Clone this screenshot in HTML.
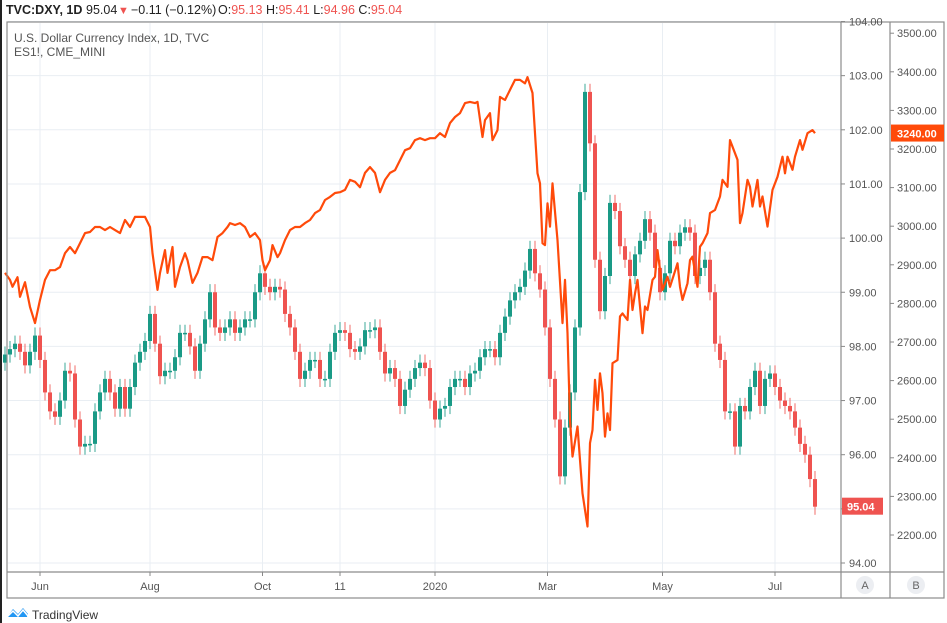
<!DOCTYPE html>
<html><head><meta charset="utf-8">
<style>
html,body{margin:0;padding:0;background:#fff;width:947px;height:623px;overflow:hidden;font-family:"Liberation Sans",sans-serif;}
svg text{font-family:"Liberation Sans",sans-serif;}
</style></head>
<body>
<svg id="chart" width="947" height="623" viewBox="0 0 947 623" xmlns="http://www.w3.org/2000/svg">
  <rect x="0" y="0" width="2" height="623" fill="#222"/>
  <g id="header">
    <text x="6" y="14" font-size="12.5" fill="#222" font-weight="bold">TVC:DXY, 1D</text>
    <text x="86" y="14" font-size="12.5" fill="#222">95.04</text>
    <text x="118" y="14" font-size="11" fill="#ef5350">▼</text>
    <text x="131" y="14" font-size="12.5" fill="#222">−0.11 (−0.12%)</text>
    <text x="218" y="14" font-size="12.5" fill="#222">O:<tspan fill="#ef5350">95.13</tspan> H:<tspan fill="#ef5350">95.41</tspan> L:<tspan fill="#ef5350">94.96</tspan> C:<tspan fill="#ef5350">95.04</tspan></text>
  </g>
  <g id="grid"></g>
  <g id="candles"></g>
  <path id="esline" fill="none" stroke="#ff4a0a" stroke-width="2.2" stroke-linejoin="round"/>
  <rect x="7" y="22" width="937" height="576" fill="none" stroke="#8c8c8c" stroke-width="1.2"/>
  <line x1="841" y1="22" x2="841" y2="598" stroke="#8c8c8c" stroke-width="1.2"/>
  <line x1="890" y1="22" x2="890" y2="598" stroke="#8c8c8c" stroke-width="1.2"/>
  <line x1="7" y1="572" x2="944" y2="572" stroke="#8c8c8c" stroke-width="1.2"/>
  <text x="14" y="42" font-size="12" fill="#555">U.S. Dollar Currency Index, 1D, TVC</text>
  <text x="14" y="56" font-size="12" fill="#555">ES1!, CME_MINI</text>
  <g id="dxyaxis"></g>
  <g id="esaxis"></g>
  <g id="timeaxis"></g>
  <g><circle cx="865" cy="585" r="9" fill="#eceef2"/><text x="865" y="589" font-size="11" fill="#666" text-anchor="middle">A</text></g>
  <g><circle cx="916" cy="585" r="9" fill="#eceef2"/><text x="916" y="589" font-size="11" fill="#666" text-anchor="middle">B</text></g>
  <g>
    <path d="M7 617 L13 609 L18 614 L23 608 L28 614 L27 617 Z" fill="#2196f3"/>
    <path d="M7 617 L13 611 L18 616 L23 610 L28 616" fill="none" stroke="#fff" stroke-width="1.5"/>
    <text x="32" y="619" font-size="12" fill="#333">TradingView</text>
  </g>
</svg>
<script>
const dxyCloses = [97.85,97.95,98.05,97.9,97.65,97.9,98.2,97.75,97.15,96.8,96.7,97.0,97.55,97.5,96.65,96.15,96.2,96.2,96.8,97.15,97.4,97.15,96.85,97.25,96.85,97.25,97.7,97.9,98.1,98.6,98.05,97.45,97.55,97.55,97.8,98.25,98.25,98.0,97.55,98.05,98.5,99.0,98.35,98.25,98.35,98.5,98.25,98.35,98.5,98.5,99.0,99.35,99.1,99.0,99.1,99.05,98.6,98.35,97.9,97.4,97.55,97.75,97.75,97.4,97.4,97.9,98.25,98.3,98.25,97.95,97.9,98.0,98.3,98.3,98.35,97.9,97.5,97.6,97.4,96.9,97.2,97.4,97.6,97.7,97.6,97.0,96.65,96.85,96.9,97.25,97.4,97.4,97.25,97.5,97.55,97.8,97.95,97.95,97.8,98.25,98.55,98.85,99.0,99.1,99.4,99.8,99.35,99.05,98.35,97.4,96.65,95.6,96.5,97.15,98.35,100.85,102.7,101.75,99.6,98.65,99.3,100.65,100.5,99.85,99.6,99.3,99.7,99.95,100.35,100.1,99.45,99.0,99.35,99.95,99.85,100.1,100.2,100.1,99.3,99.45,99.6,99.0,98.05,97.75,96.8,96.8,96.15,96.9,96.8,97.25,97.55,96.9,97.4,97.5,97.25,97.0,96.9,96.8,96.5,96.2,96.0,95.55,95.04];
const dxyStartOpen = 97.7;
const esDays = [0,2,3,5,6,8,10,12,14,16,18,20,22,24,26,28,30,32,34,36,38,40,42,44,46,48,50,52,54,56,58,59,61,62,64,65,67,68,70,72,73,75,77,79,81,83,85,87,89,90,92,94,96,98,100,102,103,104,106,107,109,110,112,114,116,118,120,122,124,126,128,130,132,134,136,138,140,142,144,146,148,150,152,154,156,158,160,162,164,166,168,170,172,174,176,178,180,182,184,186,188,189,191,192,194,195,197,198,200,202,204,206,208,209,211,213,214,215,216,217,218,219,221,223,224,225,226,227,229,230,231,233,234,235,236,237,238,239,240,241,242,243,245,246,247,249,250,251,252,253,255,256,257,259,260,261,263,265,266,269,270,271,273,274,275,277,278,279,281,282,284,286,287,289,290,291,293,294,295,297,298,299,301,302,303,305,307,309,311,312,313,315,316,318,319,321,323,324];
const esValues = [2879,2861,2843,2868,2817,2855,2791,2749,2809,2861,2886,2886,2894,2930,2946,2930,2956,2982,2985,2998,2998,2990,2998,2990,2982,3016,2998,3024,3024,3024,2998,2930,2835,2879,2938,2879,2946,2843,2894,2930,2912,2853,2879,2920,2920,2912,2972,2982,2998,3008,3003,3008,2998,2972,2982,2964,2912,2886,2912,2951,2920,2930,2964,2990,2998,2998,3008,3016,3034,3042,3068,3076,3086,3088,3094,3120,3115,3101,3138,3153,3138,3088,3120,3138,3145,3171,3197,3202,3223,3228,3223,3228,3228,3241,3231,3267,3283,3293,3319,3322,3319,3322,3231,3275,3293,3223,3249,3335,3327,3353,3379,3379,3370,3386,3345,3137,3111,2956,2951,3059,2999,3111,2964,2749,2861,2723,2498,2403,2481,2394,2308,2222,2438,2472,2602,2524,2619,2567,2455,2515,2472,2645,2653,2766,2774,2757,2861,2783,2826,2861,2723,2792,2783,2861,2869,2938,2835,2869,2843,2904,2843,2809,2852,2912,2921,2843,2947,2956,2982,3034,3042,3077,3120,3102,3223,3206,3172,3008,3034,3120,3102,3051,3120,3051,3077,2999,3094,3128,3180,3137,3180,3146,3180,3223,3198,3241,3249,3241];
const dxyTicks = [104,103,102,101,100,99,98,97,96,95,94];
const esTicks = [3500,3400,3300,3200,3100,3000,2900,2800,2700,2600,2500,2400,2300,2200];
const timeLabels = ["Jun","Aug","Oct","11","2020","Mar","May","Jul"];
const timeDays = [14,58,103,134,172,217,263,308];

const NS="http://www.w3.org/2000/svg";
const xScale = d => 5 + d*2.5;
const yDxy = p => 563 - (p-94)*54.15;
const yEs = v => 535 - (v-2200)*0.386;
function mk(tag, attrs, parent){const e=document.createElementNS(NS,tag);for(const k in attrs)e.setAttribute(k,attrs[k]);parent.appendChild(e);return e;}

const grid=document.getElementById('grid');
dxyTicks.forEach(t=>{const l=mk('line',{x1:8,x2:841,y1:yDxy(t),y2:yDxy(t),stroke:'#e9eef3','stroke-width':1},grid);

});
timeDays.forEach(d=>{const l=mk('line',{x1:xScale(d),x2:xScale(d),y1:23,y2:572,stroke:'#e9eef3','stroke-width':1},grid);

});

const cg=document.getElementById('candles');
let prev=dxyStartOpen;
dxyCloses.forEach((c,i)=>{
  const o=prev; prev=c;
  const up=c>=o; const col=up?'#1a9a86':'#ef5350';
  const x=xScale(i*2);
  const hi=Math.max(o,c)+0.15, lo=Math.min(o,c)-0.15;
  const g=mk('g',{},cg);
  
  
  mk('line',{x1:x,x2:x,y1:yDxy(hi),y2:yDxy(lo),stroke:col,'stroke-width':1.2,opacity:0.7},g);
  const yt=yDxy(Math.max(o,c)), yb=yDxy(Math.min(o,c));
  mk('rect',{x:x-2,y:yt,width:4,height:Math.max(1.5,yb-yt),fill:col},g);
});

document.getElementById('esline').setAttribute('d', esValues.map((v,i)=>(i?'L':'M')+xScale(esDays[i]).toFixed(1)+' '+yEs(v).toFixed(1)).join(' '));

const da=document.getElementById('dxyaxis');
dxyTicks.forEach(t=>{const y=yDxy(t);
  mk('line',{x1:841,x2:845,y1:y,y2:y,stroke:'#888'},da);
  const tx=mk('text',{x:849,y:y+4,'font-size':11,fill:'#555'},da);tx.textContent=t.toFixed(2);
  
  });
const ea=document.getElementById('esaxis');
esTicks.forEach(t=>{const y=yEs(t);
  mk('line',{x1:890,x2:894,y1:y,y2:y,stroke:'#888'},ea);
  const tx=mk('text',{x:897,y:y+4,'font-size':11,fill:'#555'},ea);tx.textContent=t.toFixed(2);
  
  });

const lastDxy=dxyCloses[dxyCloses.length-1];
const bl=mk('g',{},da);


mk('rect',{x:842,y:yDxy(lastDxy)-9,width:41,height:17,fill:'#ef5350'},bl);
const bt=mk('text',{x:847,y:yDxy(lastDxy)+4,'font-size':11,fill:'#fff','font-weight':'bold'},bl);bt.textContent=lastDxy.toFixed(2);
const lastEs=3240;
const el=mk('g',{},ea);


mk('rect',{x:891,y:yEs(lastEs)-9,width:53,height:17,fill:'#ff4a0a'},el);
const et=mk('text',{x:897,y:yEs(lastEs)+4,'font-size':11,fill:'#fff','font-weight':'bold'},el);et.textContent=lastEs.toFixed(2);

const ta=document.getElementById('timeaxis');
timeLabels.forEach((s,i)=>{const x=xScale(timeDays[i]);
  mk('line',{x1:x,x2:x,y1:572,y2:576,stroke:'#888'},ta);
  const tx=mk('text',{x:x,y:590,'font-size':11,fill:'#555','text-anchor':'middle'},ta);tx.textContent=s;
  
  });
</script>
</body></html>
